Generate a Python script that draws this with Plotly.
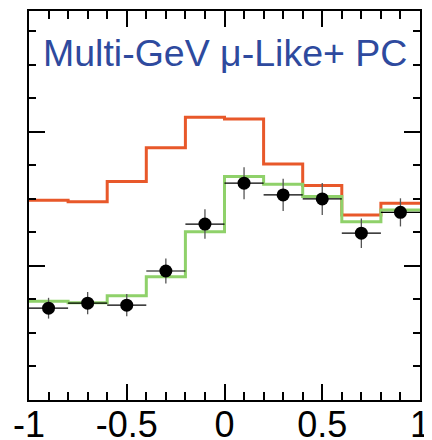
import plotly.graph_objects as go

# Bin edges in cos(zenith)
bin_edges = [-1.0, -0.8, -0.6, -0.4, -0.2, 0.0, 0.2, 0.4, 0.6, 0.8, 1.0]
bin_centers = [-0.9, -0.7, -0.5, -0.3, -0.1, 0.1, 0.3, 0.5, 0.7, 0.9]

# No-oscillation MC (orange)
no_osc = [59.6, 59.2, 65.2, 75.3, 84.4, 83.9, 70.4, 64.0, 55.2, 58.7]
# Best-fit oscillation MC (green)
best_fit = [29.5, 29.0, 31.1, 36.8, 50.2, 66.7, 64.4, 60.7, 53.2, 56.7]
# Data points and errors
data_vals = [27.4, 28.9, 28.3, 38.5, 52.5, 64.7, 61.2, 60.0, 49.8, 56.0]
data_errs = [3.1, 3.3, 3.3, 3.7, 4.4, 4.8, 4.8, 4.8, 4.4, 4.2]
half_width = [0.1] * 10

title_text = "Multi-GeV \u03bc-Like+ PC"
x_tickvals = [-1, -0.5, 0, 0.5, 1]
x_ticktext = ["-1", "-0.5", "0", "0.5", "1"]

fig = go.Figure()

fig.add_trace(go.Scatter(
    x=bin_edges, y=no_osc + [no_osc[-1]], mode="lines",
    line=dict(color="#e8582a", width=3, shape="hv"), showlegend=False,
))
fig.add_trace(go.Scatter(
    x=bin_edges, y=best_fit + [best_fit[-1]], mode="lines",
    line=dict(color="#8fd16a", width=3, shape="hv"), showlegend=False,
))
fig.add_trace(go.Scatter(
    x=bin_centers, y=data_vals, mode="markers",
    marker=dict(color="black", size=13),
    error_y=dict(type="data", array=data_errs, color="#555555", thickness=1.3, width=0),
    error_x=dict(type="data", array=half_width, color="black", thickness=1.2, width=0),
    showlegend=False,
))

fig.add_annotation(
    x=0.5, y=0.892, xref="paper", yref="paper", text=title_text, showarrow=False,
    font=dict(family="Liberation Sans, Arial", size=37.5, color="#2e4a9e"),
    xanchor="center", yanchor="middle",
)

fig.update_xaxes(
    range=[-1, 1], showgrid=False, zeroline=False, automargin=False,
    showline=True, linecolor="black", linewidth=2, mirror="allticks",
    ticks="inside", ticklen=16, tickwidth=2, tickcolor="black",
    tickvals=x_tickvals, ticktext=x_ticktext, ticklabelstandoff=-8,
    tickfont=dict(family="Liberation Sans, Arial", size=36, color="black"),
    minor=dict(ticks="inside", ticklen=8, tickwidth=2, tickcolor="black", dtick=0.1, tick0=-1, showgrid=False),
)
fig.update_yaxes(
    range=[0, 116.1], showgrid=False, zeroline=False, automargin=False,
    showline=True, linecolor="black", linewidth=2, mirror="allticks",
    ticks="inside", ticklen=16, tickwidth=2, tickcolor="black",
    tick0=0, dtick=40, showticklabels=False,
    minor=dict(ticks="inside", ticklen=7, tickwidth=2, tickcolor="black", dtick=10, tick0=0, showgrid=False),
)

fig.update_layout(
    width=424, height=432,
    margin=dict(l=21, r=12, t=3, b=40),
    paper_bgcolor="white", plot_bgcolor="white",
)

fig.write_html("out.html")
